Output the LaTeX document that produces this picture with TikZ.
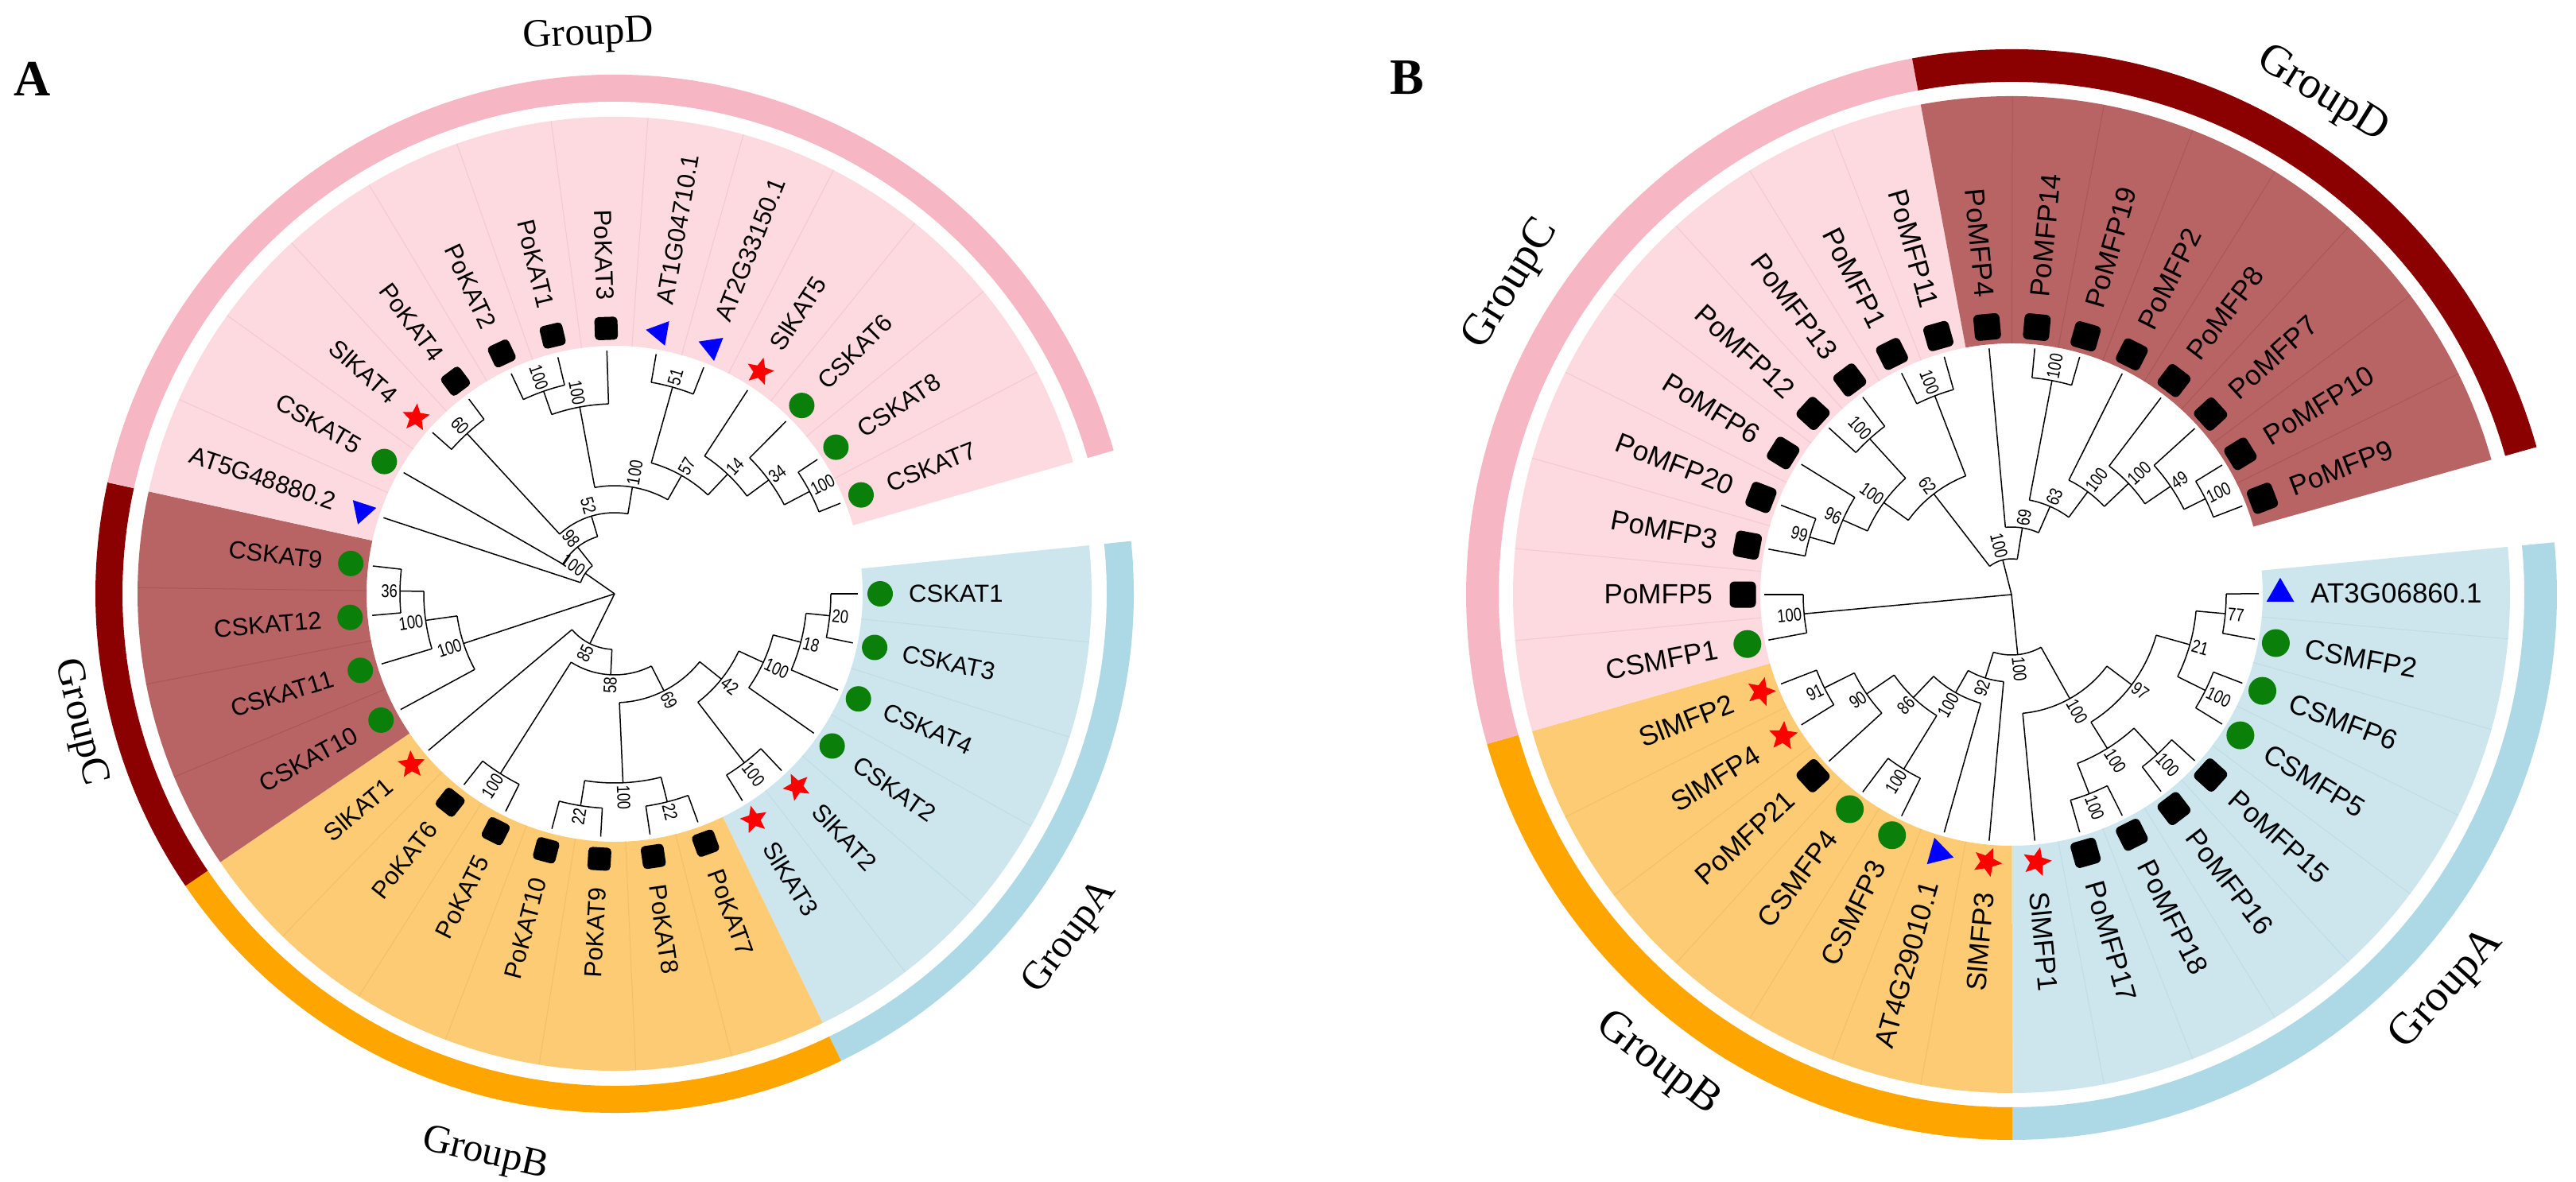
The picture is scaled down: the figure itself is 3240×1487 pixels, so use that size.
\documentclass[tikz,border=0pt]{standalone}
\usepackage{fontspec}
\usepackage{graphicx}
\setmainfont{Liberation Serif}
\newfontfamily\arialf{Liberation Sans}
\usetikzlibrary{shapes.geometric}
\definecolor{ringpink}{HTML}{F6B6C3}
\definecolor{secpink}{HTML}{FDD9E0}
\definecolor{ringdred}{HTML}{8B0000}
\definecolor{secdred}{HTML}{B86464}
\definecolor{ringorange}{HTML}{FFA500}
\definecolor{secorange}{HTML}{FDCB74}
\definecolor{ringblue}{HTML}{ADD8E6}
\definecolor{secblue}{HTML}{CDE6EE}
\definecolor{linpink}{HTML}{F3C9D1}
\definecolor{lindred}{HTML}{A85757}
\definecolor{linorange}{HTML}{F2BF69}
\definecolor{linblue}{HTML}{BFDCE6}
\definecolor{symgreen}{HTML}{0A800A}

\tikzset{
  br/.style={line width=1.5pt, black},
  leaflab/.style={font=\leaffont, inner sep=0pt},
  bsl/.style={font=\arialf\fontsize{23}{23}\selectfont, inner sep=0pt},
  grpA/.style={font=\fontsize{50}{50}\selectfont, inner sep=0pt},
  grpB/.style={font=\fontsize{56}{56}\selectfont, inner sep=0pt},
  sepl/.style={line width=1pt},
}

\newcommand{\annul}[5]{\fill[#1] (#2:#4) arc[start angle=#2,end angle=#3,radius=#4] -- (#3:#5) arc[start angle=#3,end angle=#2,radius=#5] -- cycle;}

\newcommand{\rtext}[4][]{%
  \pgfmathsetmacro\rtcos{cos(#2)}%
  \ifdim\rtcos pt<0pt
    \node[#1,rotate=#2+180,anchor=east] at (#2:#3) {#4};%
  \else
    \node[#1,rotate=#2,anchor=west] at (#2:#3) {#4};%
  \fi}

\newcounter{bsn}
\newcommand{\tnode}[5]{%
  \pgfmathsetmacro\tnm{(#1+#2)/2}%
  \pgfmathsetmacro\tlr{#4+3}%
  \draw[br] (\tnm:#3) -- (\tnm:#4);
  \draw[br] (#1:#4) arc[start angle=#1,end angle=#2,radius=#4];
  \stepcounter{bsn}%
  \rtext[bsl,name=bs\thebsn]{\tnm}{\tlr}{\scalebox{0.8}[1]{#5}}}

\newcommand{\SG}[2]{\node[circle,fill=symgreen,minimum size=\szc,inner sep=0pt,name=s#2] at (#1:\rsym) {};}
\newcommand{\SK}[2]{\node[rectangle,fill=black,rounded corners=\szr,minimum size=\szq,inner sep=0pt,rotate=#1,name=s#2] at (#1:\rsym) {};}
\newcommand{\SR}[2]{\node[star,star points=5,star point ratio=2.2,fill=red,minimum size=\szs,inner sep=0pt,rotate=#1,name=s#2] at (#1:\rsym) {};}
\newcommand{\SB}[2]{\node[regular polygon,regular polygon sides=3,fill=blue,minimum size=\szt,inner sep=0pt,rotate=#1,name=s#2] at (#1:\rsym) {};}

\newcommand{\lf}[5]{%
  \draw[br] (#2:#3) -- (#2:\rtip);
  #4{#2}{#1}%
  \rtext[leaflab,name=#1]{#2}{\rtxt}{#5}}

\begin{document}
\begin{tikzpicture}[x=1pt,y=1pt]
\fill[white] (0,0) rectangle (3240,-1487);
\useasboundingbox (0,0) rectangle (3240,-1487);

\node[font=\bfseries\fontsize{64}{64}\selectfont, inner sep=0pt] (labA) at (41,-99) {A};
\node[font=\bfseries\fontsize{64}{64}\selectfont, inner sep=0pt] (labB) at (1770,-98) {B};

%================ TREE A =================
\begin{scope}[shift={(773,-747)}]
\def\leaffont{\arialf\fontsize{31}{31}\selectfont}
\def\rtip{306}\def\rsym{334}\def\rtxt{370}
\def\szc{32}\def\szq{29}\def\szr{5pt}\def\szs{36}\def\szt{36}
% sectors
\annul{secblue}{5.83}{-64.13}{312}{600}
\annul{secorange}{-64.13}{-145.75}{312}{600}
\annul{secdred}{-145.75}{-192.39}{312}{600}
\annul{secpink}{-192.39}{-343.97}{312}{600}
\foreach \i in {0,...,4} \draw[sepl,linblue] ({-5.83-11.66*\i}:312) -- ({-5.83-11.66*\i}:600);
\foreach \i in {6,...,11} \draw[sepl,linorange] ({-5.83-11.66*\i}:312) -- ({-5.83-11.66*\i}:600);
\foreach \i in {13,...,15} \draw[sepl,lindred] ({-5.83-11.66*\i}:312) -- ({-5.83-11.66*\i}:600);
\foreach \i in {17,...,28} \draw[sepl,linpink] ({-5.83-11.66*\i}:312) -- ({-5.83-11.66*\i}:600);
% rings
\annul{ringblue}{5.83}{-64.13}{619}{653}
\annul{ringorange}{-64.13}{-145.75}{619}{653}
\annul{ringdred}{-145.75}{-192.39}{619}{653}
\annul{ringpink}{-192.39}{-343.97}{619}{653}
% group labels
\node[grpA,rotate=2.7] (gAD) at (92.7:703) {GroupD};
\node[grpA,rotate=-76.5] (gAC) at (193.5:692) {GroupC};
\node[grpA,rotate=-13] (gAB) at (-103:724) {GroupB};
\node[grpA,rotate=53] (gAA) at (-37:718) {GroupA};
% internal nodes
\tnode{0}{-11.66}{242}{272}{20}
\tnode{-23.32}{-5.83}{206}{242}{18}
\tnode{-34.98}{-14.575}{172}{206}{100}
\tnode{-46.64}{-58.30}{172}{268}{100}
\tnode{-52.47}{-24.7775}{137}{172}{42}
\tnode{-69.96}{-81.62}{238}{270}{22}
\tnode{-93.28}{-104.94}{238}{270}{22}
\tnode{-99.11}{-75.79}{137}{238}{100}
\tnode{-87.45}{-38.62}{102}{137}{69}
\tnode{-116.60}{-128.26}{102}{268}{100}
\tnode{-122.43}{-63.035}{70}{102}{58}
\tnode{-139.92}{-92.73}{0}{70}{85}
\tnode{-186.56}{-174.90}{240}{270}{36}
\tnode{-163.24}{-180.73}{200}{240}{100}
\tnode{-151.58}{-171.985}{0}{200}{100}
\tnode{-221.54}{-233.20}{102}{274}{60}
\tnode{-244.86}{-256.52}{239}{270}{100}
\tnode{-250.69}{-268.18}{136}{239}{100}
\tnode{-279.84}{-291.50}{171}{270}{51}
\tnode{-326.48}{-338.14}{241}{277}{100}
\tnode{-314.82}{-332.31}{207}{241}{34}
\tnode{-303.16}{-323.565}{171}{207}{14}
\tnode{-285.67}{-313.3625}{136}{171}{57}
\tnode{-259.435}{-299.52}{102}{136}{100}
\tnode{-227.37}{-279.48}{75}{102}{52}
\tnode{-209.88}{-253.425}{45}{75}{98}
\tnode{-198.22}{-231.65}{0}{45}{100}
% leaves
\lf{A-CSKAT1}{0}{272}{\SG}{CSKAT1}
\lf{A-CSKAT3}{-11.66}{272}{\SG}{CSKAT3}
\lf{A-CSKAT4}{-23.32}{242}{\SG}{CSKAT4}
\lf{A-CSKAT2}{-34.98}{206}{\SG}{CSKAT2}
\lf{A-SlKAT2}{-46.64}{268}{\SR}{SlKAT2}
\lf{A-SlKAT3}{-58.30}{268}{\SR}{SlKAT3}
\lf{A-PoKAT7}{-69.96}{270}{\SK}{PoKAT7}
\lf{A-PoKAT8}{-81.62}{270}{\SK}{PoKAT8}
\lf{A-PoKAT9}{-93.28}{270}{\SK}{PoKAT9}
\lf{A-PoKAT10}{-104.94}{270}{\SK}{PoKAT10}
\lf{A-PoKAT5}{-116.60}{268}{\SK}{PoKAT5}
\lf{A-PoKAT6}{-128.26}{268}{\SK}{PoKAT6}
\lf{A-SlKAT1}{-139.92}{70}{\SR}{SlKAT1}
\lf{A-CSKAT10}{-151.58}{200}{\SG}{CSKAT10}
\lf{A-CSKAT11}{-163.24}{240}{\SG}{CSKAT11}
\lf{A-CSKAT12}{-174.90}{270}{\SG}{CSKAT12}
\lf{A-CSKAT9}{-186.56}{270}{\SG}{CSKAT9}
\lf{A-AT5G}{-198.22}{45}{\SB}{AT5G48880.2}
\lf{A-CSKAT5}{-209.88}{75}{\SG}{CSKAT5}
\lf{A-SlKAT4}{-221.54}{274}{\SR}{SlKAT4}
\lf{A-PoKAT4}{-233.20}{274}{\SK}{PoKAT4}
\lf{A-PoKAT2}{-244.86}{270}{\SK}{PoKAT2}
\lf{A-PoKAT1}{-256.52}{270}{\SK}{PoKAT1}
\lf{A-PoKAT3}{-268.18}{239}{\SK}{PoKAT3}
\lf{A-AT1G}{-279.84}{270}{\SB}{AT1G04710.1}
\lf{A-AT2G}{-291.50}{270}{\SB}{AT2G33150.1}
\lf{A-SlKAT5}{-303.16}{207}{\SR}{SlKAT5}
\lf{A-CSKAT6}{-314.82}{241}{\SG}{CSKAT6}
\lf{A-CSKAT8}{-326.48}{277}{\SG}{CSKAT8}
\lf{A-CSKAT7}{-338.14}{277}{\SG}{CSKAT7}
\end{scope}

%================ TREE B =================
\begin{scope}[shift={(2530,-748)}]
\def\leaffont{\arialf\fontsize{35}{35}\selectfont}
\def\rtip{311}\def\rsym{338}\def\rtxt{376}
\def\szc{35}\def\szq{33}\def\szr{6pt}\def\szs{38}\def\szt{40}
\annul{secblue}{5.5}{-89.9}{316}{627}
\annul{secorange}{-89.9}{-164.1}{316}{627}
\annul{secpink}{-164.1}{-259.5}{316}{627}
\annul{secdred}{-259.5}{-344.3}{316}{627}
\foreach \i in {0,...,7} \draw[sepl,linblue] ({-5.1-10.6*\i}:316) -- ({-5.1-10.6*\i}:627);
\foreach \i in {9,...,14} \draw[sepl,linorange] ({-5.1-10.6*\i}:316) -- ({-5.1-10.6*\i}:627);
\foreach \i in {16,...,23} \draw[sepl,linpink] ({-5.1-10.6*\i}:316) -- ({-5.1-10.6*\i}:627);
\foreach \i in {25,...,31} \draw[sepl,lindred] ({-5.1-10.6*\i}:316) -- ({-5.1-10.6*\i}:627);
\annul{ringblue}{5.5}{-89.9}{645}{686}
\annul{ringorange}{-89.9}{-164.1}{645}{686}
\annul{ringpink}{-164.1}{-259.5}{645}{686}
\annul{ringdred}{-259.5}{-344.3}{645}{686}
\node[grpB,rotate=58.2] (gBC) at (148.2:740) {GroupC};
\node[grpB,rotate=-31.9] (gBD) at (58.1:740) {GroupD};
\node[grpB,rotate=-37] (gBB) at (-127:740) {GroupB};
\node[grpB,rotate=47.8] (gBA) at (-42.2:740) {GroupA};
% internal nodes
\tnode{0.2}{-10.4}{233}{270}{77}
\tnode{-21.0}{-31.6}{233}{272}{100}
\tnode{-5.1}{-26.3}{189}{233}{21}
\tnode{-42.2}{-52.8}{228}{272}{100}
\tnode{-63.4}{-74.0}{228}{269}{100}
\tnode{-47.5}{-68.7}{189}{228}{100}
\tnode{-15.7}{-58.1}{150}{189}{97}
\tnode{-36.9}{-84.6}{76}{150}{100}
\tnode{-116.4}{-127.0}{179}{258}{100}
\tnode{-148.2}{-158.8}{221}{263}{91}
\tnode{-137.6}{-153.5}{179}{221}{90}
\tnode{-121.7}{-145.55}{142}{179}{86}
\tnode{-105.8}{-133.625}{110}{142}{100}
\tnode{-95.2}{-119.7125}{76}{110}{92}
\tnode{-60.75}{-107.45625}{0}{76}{100}
\tnode{-169.4}{-180.0}{0}{262}{100}
\tnode{-190.6}{-201.2}{232}{264}{99}
\tnode{-195.9}{-211.8}{198}{232}{96}
\tnode{-222.4}{-233.0}{198}{265}{100}
\tnode{-203.85}{-227.7}{160}{198}{100}
\tnode{-243.6}{-254.2}{160}{268}{100}
\tnode{-215.775}{-248.9}{45}{160}{62}
\tnode{-275.4}{-286.0}{121}{274}{100}
\tnode{-328.4}{-339.0}{242}{272}{100}
\tnode{-317.8}{-333.7}{203}{242}{49}
\tnode{-307.2}{-325.75}{161}{203}{100}
\tnode{-296.6}{-316.475}{121}{161}{100}
\tnode{-280.7}{-306.5375}{85}{121}{63}
\tnode{-264.8}{-293.61875}{45}{85}{69}
\tnode{-232.3375}{-279.209375}{0}{45}{100}
% leaves
\lf{B-AT3G}{0.2}{270}{\SB}{AT3G06860.1}
\lf{B-CSMFP2}{-10.4}{270}{\SG}{CSMFP2}
\lf{B-CSMFP6}{-21.0}{272}{\SG}{CSMFP6}
\lf{B-CSMFP5}{-31.6}{272}{\SG}{CSMFP5}
\lf{B-PoMFP15}{-42.2}{272}{\SK}{PoMFP15}
\lf{B-PoMFP16}{-52.8}{272}{\SK}{PoMFP16}
\lf{B-PoMFP18}{-63.4}{269}{\SK}{PoMFP18}
\lf{B-PoMFP17}{-74.0}{269}{\SK}{PoMFP17}
\lf{B-SlMFP1}{-84.6}{150}{\SR}{SlMFP1}
\lf{B-SlMFP3}{-95.2}{110}{\SR}{SlMFP3}
\lf{B-AT4G}{-105.8}{142}{\SB}{AT4G29010.1}
\lf{B-CSMFP3}{-116.4}{258}{\SG}{CSMFP3}
\lf{B-CSMFP4}{-127.0}{258}{\SG}{CSMFP4}
\lf{B-PoMFP21}{-137.6}{221}{\SK}{PoMFP21}
\lf{B-SlMFP4}{-148.2}{263}{\SR}{SlMFP4}
\lf{B-SlMFP2}{-158.8}{263}{\SR}{SlMFP2}
\lf{B-CSMFP1}{-169.4}{262}{\SG}{CSMFP1}
\lf{B-PoMFP5}{-180.0}{262}{\SK}{PoMFP5}
\lf{B-PoMFP3}{-190.6}{264}{\SK}{PoMFP3}
\lf{B-PoMFP20}{-201.2}{264}{\SK}{PoMFP20}
\lf{B-PoMFP6}{-211.8}{232}{\SK}{PoMFP6}
\lf{B-PoMFP12}{-222.4}{265}{\SK}{PoMFP12}
\lf{B-PoMFP13}{-233.0}{265}{\SK}{PoMFP13}
\lf{B-PoMFP1}{-243.6}{268}{\SK}{PoMFP1}
\lf{B-PoMFP11}{-254.2}{268}{\SK}{PoMFP11}
\lf{B-PoMFP4}{-264.8}{85}{\SK}{PoMFP4}
\lf{B-PoMFP14}{-275.4}{274}{\SK}{PoMFP14}
\lf{B-PoMFP19}{-286.0}{274}{\SK}{PoMFP19}
\lf{B-PoMFP2}{-296.6}{161}{\SK}{PoMFP2}
\lf{B-PoMFP8}{-307.2}{203}{\SK}{PoMFP8}
\lf{B-PoMFP7}{-317.8}{242}{\SK}{PoMFP7}
\lf{B-PoMFP10}{-328.4}{272}{\SK}{PoMFP10}
\lf{B-PoMFP9}{-339.0}{272}{\SK}{PoMFP9}
\end{scope}
\end{tikzpicture}
\end{document}
